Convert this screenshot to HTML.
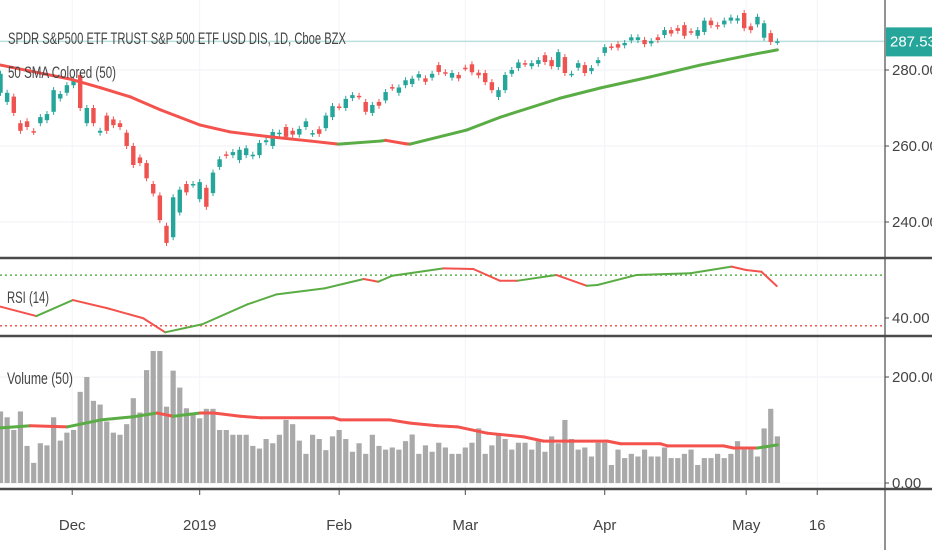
<!DOCTYPE html>
<html><head><meta charset="utf-8"><style>
html,body{margin:0;padding:0;background:#fff;}
svg{display:block;font-family:"Liberation Sans Narrow","Liberation Sans",sans-serif;}
</style></head><body>
<svg id="chart" width="932" height="550" viewBox="0 0 932 550" xmlns="http://www.w3.org/2000/svg">
<rect x="0" y="0" width="932" height="550" fill="#ffffff"/>
<g id="grid"></g>
<g id="main"></g>
<g id="rsi"></g>
<g id="vol"></g>
<g id="axes"></g>
<text x="8" y="44" font-size="17" fill="#444" textLength="338" lengthAdjust="spacingAndGlyphs">SPDR S&amp;P500 ETF TRUST S&amp;P 500 ETF USD DIS, 1D, Cboe BZX</text>
<text x="8" y="78" font-size="17" fill="#444" textLength="108" lengthAdjust="spacingAndGlyphs">50 SMA Colored (50)</text>
<text x="7" y="303" font-size="17" fill="#444" textLength="42" lengthAdjust="spacingAndGlyphs">RSI (14)</text>
<text x="7" y="384" font-size="17" fill="#444" textLength="66" lengthAdjust="spacingAndGlyphs">Volume (50)</text>
</svg>
<script>
const opens=[274,271.6,273,266,266.5,263.9,266,266.8,269,272.5,274,276,278.7,266,270,263.5,268,267,266,263.5,260,257,255.5,250,247,239,236,242.5,250,249.8,246,249,247.6,254.5,257.8,257.6,256.3,257.6,257.3,257.6,261,260,263.3,265,264,263,265,263.2,264.4,264.7,267.6,270.4,270,272.6,273.2,271.6,268.7,271.6,272,275.5,274,276,276.3,278,277.8,278,281.3,279.4,278,278.7,280.6,281.5,279.3,279.2,276.8,272.9,274.7,279,280.5,281.8,281,281.6,283.9,282.6,280.8,283.4,278.9,280.6,281.3,279.7,281.8,284.5,286.2,286.8,286.5,287.8,287.9,287.9,287,288.6,289.2,290.5,291,291.8,290.2,289,290,293,291.8,292,293,293,295,291.5,292,288.5,289.7,287.4];
const closes=[279,274,268.7,264,265,263.7,267.6,268.4,274.7,273.7,276,277.5,270,270,266,264,264,265.5,265,260,255,255.5,251.5,247.5,240.5,234.5,246.5,248.5,247.8,250,250.5,244,253,256.5,257.5,258.4,259,259.4,257.7,260.8,261.5,263.7,263.5,262.4,263,264.5,266.5,263.4,263.2,268,270.5,270.2,272.4,273.4,273,269,270.8,270.6,274.2,275.3,275.4,277.3,277.7,278.9,276.9,279,279.5,279.2,279.2,277.8,280.5,279.4,278.6,276.8,274.7,274.7,278.7,280,282,281.6,281.8,282.6,282.1,281,284.7,279.2,279,281.8,279.2,280.5,282.6,286,286,285.9,287.1,288.6,288.6,286.8,287.6,287.9,290.5,289.6,290.3,289,290,290.5,293,291.8,291.5,293,293.8,293.6,291,290.5,294,292.3,287.4,287.53];
const volumes=[135,124,100,135,70,38,75,71,124,80,95,100,172,200,155,148,116,95,91,111,160,133,213,249,249,144,212,180,141,133,122,140,140,100,100,91,91,91,70,65,83,75,91,119,111,80,55,91,83,62,88,100,83,59,75,55,91,70,63,67,63,79,91.5,55,71,59,76,67,55,55,67,76,103,55,71,91.5,83,63,76,76,63,79,59,88,75,119,83,63,67,50,76,76,34,63,47,55,50,63,50,50,67,47,47,55,63,34,47,47,55,47,55,79,63,63,50,103,140,88];
const smaIdx=[0,10.5,15.1,19.6,24.1,30.1,34.6,40.7,46.7,50.9,57.2,58,61,61.7,70.2,75.3,84.3,90.4,97.9,105.4,113,117];
const smaVal=[281.3,277.6,275.3,272.9,269.5,265.5,263.7,262.4,261.3,260.5,261.3,261.5,260.6,260.5,264.2,267.6,272.6,275.3,278.2,281.3,284,285.3];
const rsiIdx=[0,5.4,10.9,16.1,21.5,24.8,30.4,37.2,41.6,48.8,54.7,56.9,59,66.7,71.2,75.2,77.9,83.7,88.3,89.9,95.8,103.9,110.1,112.3,114.6,116.9];
const rsiVal=[48.7,41.5,53.8,47.5,39.8,29,35.2,50.5,58.2,62.8,70,67.9,72.5,78.2,77.7,68.7,68.7,73.1,64.8,65.4,73.1,74.4,79.5,76.9,75.6,64.6];
const rsiLevels=[73,34];
const vmaIdx=[0,4.5,10.1,15.1,20,23.6,26,30.1,32.1,36.1,39.2,50.2,51.2,58.7,61.7,65.8,68.8,73.3,78.8,81.8,91.4,93.4,99.4,100.5,108.9,110.4,114,117];
const vmaVal=[104,108,106,119,125,132,126,132,132,126,123,123,119,119,113,108,106,94,87,79,79,74,74,70,70,66,66,72];
const priceTicks=[280,260,240];
const rsiTicks=[40];
const volTicks=[200,0];
const timeLabels=["Dec","2019","Feb","Mar","Apr","May","16"];
const timeIdx=[10.8,30,51,70,91,112.3,123];
const lastPrice=287.53;

const NS="http://www.w3.org/2000/svg";
const X=i=>0.5+i*6.64;
const PY=p=>70+(280-p)*3.8;
const RY=v=>318-(v-40)*1.3;
const VY=v=>483-v*0.53;
const GREEN="#26a69a",RED="#ef5350",LG="#5aac44",LR="#f4524d";
function mk(tag,parent,attrs){const e=document.createElementNS(NS,tag);for(const k in attrs)e.setAttribute(k,attrs[k]);document.getElementById(parent).appendChild(e);return e;}

priceTicks.forEach(t=>{const l=mk('line','grid',{x1:0,x2:884,y1:PY(t),y2:PY(t),stroke:'#f0f2f6','stroke-width':1});

});
volTicks.forEach(t=>{const l=mk('line','grid',{x1:0,x2:884,y1:VY(t),y2:VY(t),stroke:'#f0f2f6','stroke-width':1});

});
timeIdx.forEach(t=>{const l=mk('line','grid',{x1:X(t),x2:X(t),y1:0,y2:490,stroke:'#f3f4f8','stroke-width':1});

});

const lp=mk('line','main',{x1:0,x2:884,y1:PY(lastPrice),y2:PY(lastPrice),stroke:'#b9e0dc','stroke-width':1.5});



for(let i=0;i<closes.length;i++){
  const o=opens[i],c=closes[i],up=c>=o,col=up?GREEN:RED;
  const hi=Math.max(o,c)+0.8,lo=Math.min(o,c)-0.8;
  const w=mk('line','main',{x1:X(i),x2:X(i),y1:PY(hi),y2:PY(lo),stroke:col,'stroke-width':1});
  
  
  const top=PY(Math.max(o,c)),h=Math.max(1.5,Math.abs(PY(o)-PY(c)));
  const b=mk('rect','main',{x:X(i)-2.2,y:top,width:4.4,height:h,fill:col});
  
  
}
function colored(idx,val,yf,parent,name,w){
  for(let k=1;k<idx.length;k++){
    const up=val[k]>val[k-1];
    const s=mk('line',parent,{x1:X(idx[k-1]),y1:yf(val[k-1]),x2:X(idx[k]),y2:yf(val[k]),stroke:up?LG:LR,'stroke-width':w,'stroke-linecap':'round'});
    
    
  }
}
colored(smaIdx,smaVal,PY,'main','sma-segment',3);

rsiLevels.forEach((lv,k)=>{const l=mk('line','rsi',{x1:0,x2:884,y1:RY(lv),y2:RY(lv),stroke:k==0?'#59b34a':'#f05a55','stroke-width':1.5,'stroke-dasharray':'2 3'});

});
colored(rsiIdx,rsiVal,RY,'rsi','rsi-segment',2);

for(let i=0;i<volumes.length;i++){
  const r=mk('rect','vol',{x:X(i)-2.6,y:VY(volumes[i]),width:5.2,height:483-VY(volumes[i]),fill:'#a9a9a9'});
  
  
}
colored(vmaIdx,vmaVal,VY,'vol','volume-ma-segment',3);

[[258,2.5],[336,2.5],[489,2.5]].forEach(([y,w])=>{const l=mk('line','axes',{x1:0,x2:932,y1:y,y2:y,stroke:'#4a4a4a','stroke-width':w});

});
const ax=mk('line','axes',{x1:885,x2:885,y1:0,y2:550,stroke:'#4a4a4a','stroke-width':1.2});


function ylabel(y,txt,name){
  const t=mk('line','axes',{x1:885,x2:889,y1:y,y2:y,stroke:'#4a4a4a','stroke-width':1});
  
  
  const e=mk('text','axes',{x:892,y:y+5,'font-size':15,fill:'#444'});
  e.textContent=txt;
  
  
}
priceTicks.forEach(t=>ylabel(PY(t),t.toFixed(2),'price-tick-label'));
rsiTicks.forEach(t=>ylabel(318,t.toFixed(2),'rsi-tick-label'));
volTicks.forEach(t=>ylabel(VY(t),t.toFixed(2),'volume-tick-label'));
const bx=mk('rect','axes',{x:886,y:PY(lastPrice)-14,width:46,height:29,fill:'#26a69a'});


const bt=mk('text','axes',{x:890,y:PY(lastPrice)+5,'font-size':15,fill:'#ffffff'});
bt.textContent=lastPrice.toFixed(2);


timeLabels.forEach((s,k)=>{
  const x=X(timeIdx[k]);
  const t=mk('line','axes',{x1:x,x2:x,y1:490,y2:495,stroke:'#4a4a4a','stroke-width':1});
  
  
  const e=mk('text','axes',{x:x,y:530,'font-size':15,fill:'#444','text-anchor':'middle'});
  e.textContent=s;
  
  
});
</script>
</body></html>
